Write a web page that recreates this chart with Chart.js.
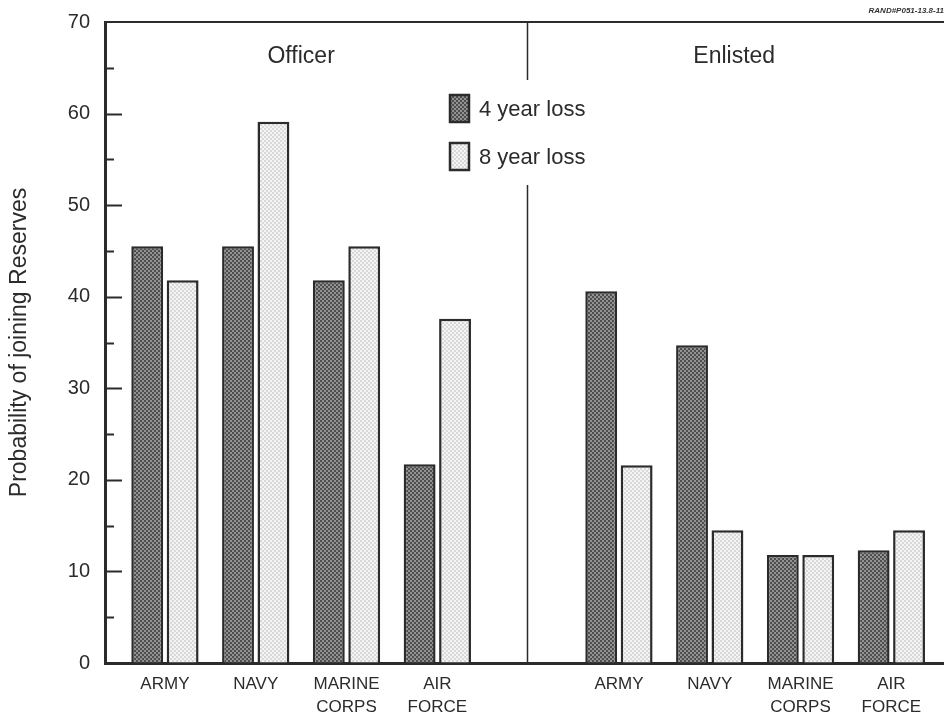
<!DOCTYPE html>
<html>
<head>
<meta charset="utf-8">
<script src="https://cdn.jsdelivr.net/npm/chart.js@4/dist/chart.umd.min.js"></script>
<style>
  html, body { margin: 0; padding: 0; background: #fff; }
  #wrap { width: 944px; height: 719px; position: relative; }
</style>
</head>
<body>
<div id="wrap"><canvas id="chart"></canvas></div>
<script>
// values
const branches = ["ARMY", "NAVY", ["MARINE", "CORPS"], ["AIR", "FORCE"]];
const groupNames = ["Officer", "Enlisted"];
const seriesNames = ["4 year loss", "8 year loss"];
const officer4 = [45.5, 45.5, 41.8, 21.7];
const officer8 = [41.8, 59.1, 45.5, 37.6];
const enlisted4 = [40.6, 34.7, 11.8, 12.3];
const enlisted8 = [21.6, 14.5, 11.8, 14.5];
const yTicks = [0, 10, 20, 30, 40, 50, 60, 70];

const FONT = '"Liberation Sans", Arial, Helvetica, sans-serif';
const INK = "#2b2b2b";

// slot positions: officer 0..3, blank at 4, enlisted 5..8
const xTickLabels = [...branches, "", ...branches];
const toPoints = (off, enl) => [
    ...off.map((v, i) => ({ x: i, y: v })),
    ...enl.map((v, i) => ({ x: i + 5, y: v }))
];

const ctx = document.getElementById("chart").getContext("2d");

function stipple(base, dot) {
    const c = document.createElement("canvas");
    c.width = 4; c.height = 4;
    const g = c.getContext("2d");
    g.fillStyle = base; g.fillRect(0, 0, 4, 4);
    g.fillStyle = dot; g.fillRect(0, 0, 2, 2); g.fillRect(2, 2, 2, 2);
    return ctx.createPattern(c, "repeat");
}
const darkFill = stipple("#929292", "#4e4e4e");
const lightFill = stipple("#f4f4f4", "#d8d8d8");

const decorPlugin = {
    id: "decor",
    afterDraw(chart) {
        const { ctx: c, chartArea: a, scales: { x, y } } = chart;
        c.save();
        c.strokeStyle = INK;
        // top frame
        c.lineWidth = 2;
        c.beginPath(); c.moveTo(a.left, a.top); c.lineTo(a.right, a.top); c.stroke();
        // inward y tick marks, long at tens and short at fives
        c.lineWidth = 2;
        y.ticks.forEach((t) => {
            if (t.value === 0 || t.value === 70) return;
            const py = Math.round(y.getPixelForValue(t.value)) + 0.5;
            const len = t.value % 10 === 0 ? 17 : 9;
            c.beginPath(); c.moveTo(a.left, py); c.lineTo(a.left + len, py); c.stroke();
        });
        // divider between the two groups, broken around the legend
        const dx = Math.round(x.getPixelForValue(4)) - 0.5;
        c.lineWidth = 1.5;
        c.beginPath();
        c.moveTo(dx, a.top); c.lineTo(dx, 80);
        c.moveTo(dx, 185); c.lineTo(dx, a.bottom);
        c.stroke();
        // group headings
        c.fillStyle = INK;
        c.font = "23px " + FONT;
        c.textAlign = "center"; c.textBaseline = "middle";
        c.fillText(groupNames[0], x.getPixelForValue(1.5), 57);
        c.fillText(groupNames[1], x.getPixelForValue(6.27), 57);
        // legend
        chart.data.datasets.forEach((ds, i) => {
            const top = 95 + i * 48;
            c.fillStyle = ds.backgroundColor;
            c.fillRect(450, top, 19, 27);
            c.lineWidth = 2.5;
            c.strokeStyle = INK;
            c.strokeRect(450, top, 19, 27);
            c.fillStyle = INK;
            c.textAlign = "left";
            c.font = "22px " + FONT;
            c.fillText(ds.label, 479, top + 15);
        });
        // figure id
        c.font = "bold italic 8px " + FONT;
        c.textAlign = "right";
        c.fillStyle = "#333";
        c.fillText("RAND#P051-13.8-11", 944, 11);
        c.restore();
    }
};

new Chart(ctx, {
    type: "bar",
    data: {
        datasets: [
            { label: seriesNames[0], data: toPoints(officer4, enlisted4), backgroundColor: darkFill, borderColor: INK, borderWidth: 2.5 },
            { label: seriesNames[1], data: toPoints(officer8, enlisted8), backgroundColor: lightFill, borderColor: INK, borderWidth: 2.5 }
        ]
    },
    options: {
        responsive: true,
        maintainAspectRatio: false,
        animation: false,
        layout: { padding: { top: 22, left: 0, right: 0, bottom: 0 } },
        datasets: { bar: { categoryPercentage: 0.78, barPercentage: 0.9 } },
        plugins: { legend: { display: false }, tooltip: { enabled: false } },
        scales: {
            x: {
                type: "linear",
                offset: false,
                min: -0.66,
                max: 8.58,
                afterBuildTicks: (s) => { s.ticks = xTickLabels.map((_, i) => ({ value: i })); },
                afterFit: (s) => { s.height = 56; s.paddingLeft = 0; s.paddingRight = 0; },
                grid: { offset: false, drawOnChartArea: false, drawTicks: false },
                border: { display: true, width: 3, color: INK },
                ticks: {
                    autoSkip: false,
                    maxRotation: 0,
                    padding: 9,
                    color: INK,
                    font: { family: FONT, size: 17, lineHeight: 1.4 },
                    callback: (v) => xTickLabels[v] ?? ""
                }
            },
            y: {
                min: 0,
                max: 70,
                afterFit: (s) => { s.width = 105; s.paddingTop = 0; s.paddingBottom = 0; },
                grid: { drawOnChartArea: false, drawTicks: false },
                border: { display: true, width: 3, color: INK },
                ticks: {
                    stepSize: 5,
                    padding: 15,
                    color: INK,
                    font: { family: FONT, size: 20 },
                    callback: (v) => (yTicks.includes(v) ? v : "")
                },
                title: {
                    display: true,
                    text: "Probability of joining Reserves",
                    color: INK,
                    font: { family: FONT, size: 23 },
                    padding: { top: 6, bottom: 0 }
                }
            }
        }
    },
    plugins: [decorPlugin]
});
</script>
</body>
</html>
